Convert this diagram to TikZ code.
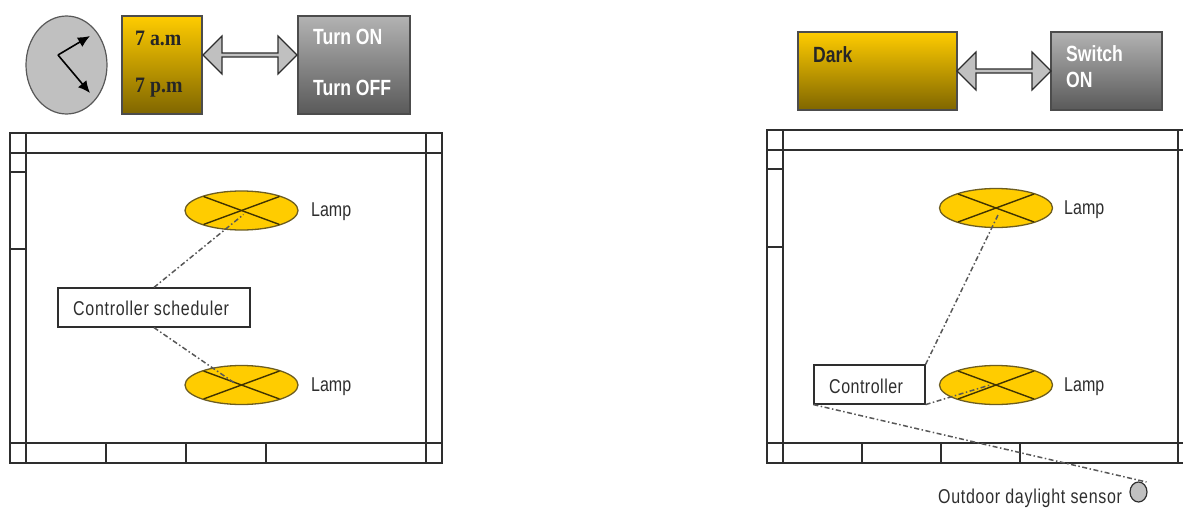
\documentclass[tikz,border=0pt]{standalone}
\usepackage{fontspec}
\setmainfont{Liberation Sans}
\newfontfamily\labelfont[FakeStretch=0.8]{Liberation Sans}
\newfontfamily\spacedfont[FakeStretch=0.8,LetterSpace=3.5]{Liberation Sans}
\newfontfamily\tightfont[FakeStretch=0.8,LetterSpace=2.5]{Liberation Sans}
\newfontfamily\boxfont[FakeStretch=0.8]{Liberation Sans}
\newfontfamily\timefont[FakeStretch=0.9]{Liberation Serif}
\usetikzlibrary{shapes.geometric,shapes.arrows,calc,arrows.meta}
\definecolor{lampfill}{HTML}{FFCC00}
\definecolor{ink}{HTML}{2E2E2E}
\definecolor{clockgray}{HTML}{C0C0C0}
\tikzset{
  x=1pt,y=-1pt,
  wall/.style={draw=ink,line width=1.2pt},
  lamp/.style={ellipse,draw=ink!70!lampfill,fill=lampfill,line width=1.3pt,minimum width=113pt,minimum height=39pt,inner sep=0pt},
  cross/.style={draw=black!75!lampfill,line width=1.4pt},
  lamptext/.style={anchor=west,inner sep=0pt,font=\labelfont\fontsize{20}{20}\selectfont,text=ink},
  ctrlbox/.style={draw=ink,fill=white,line width=1.2pt,inner sep=0pt,minimum height=39pt},
  ctrltext/.style={anchor=west,inner sep=0pt,font=\spacedfont\fontsize{20}{20}\selectfont,text=ink},
  wire/.style={draw=ink!80,line width=1.5pt,dash pattern=on 5pt off 2.5pt on 1.5pt off 2.5pt},
  yellowbox/.style={draw=black!70,line width=1.2pt,top color=lampfill,bottom color=lampfill!50!black,inner sep=0pt},
  graybox/.style={draw=black!70,line width=1.2pt,top color=black!30,bottom color=black!65,inner sep=0pt},
  darktext/.style={anchor=west,inner sep=0pt,text=black!85,font=\boxfont\bfseries\fontsize{22}{22}\selectfont},
  timetext/.style={anchor=west,inner sep=0pt,text=black!85,font=\timefont\bfseries\fontsize{22}{22}\selectfont},
  lighttext/.style={anchor=west,inner sep=0pt,text=white,font=\boxfont\bfseries\fontsize{22}{22}\selectfont},
  linkarrow/.style={double arrow,draw=ink,fill=clockgray,line width=1.2pt,minimum height=94pt,minimum width=38pt,double arrow head extend=5pt,inner sep=0pt},
  hand/.style={draw=black,line width=1.6pt,-{Latex[length=12pt,width=11pt]}},
  sensor/.style={ellipse,draw=ink,fill=clockgray,line width=1.2pt,minimum width=17pt,minimum height=20pt,inner sep=0pt}
}
\begin{document}
\begin{tikzpicture}
\useasboundingbox (0,0) rectangle (1183,508);
\clip (0,0) rectangle (1183,508);
% ---------- left: clock and schedule
\node[ellipse,draw=ink!80,fill=clockgray,line width=1.2pt,minimum width=81pt,minimum height=98pt,inner sep=0pt] (clock) at (66.5,65) {};
\coordinate (pivot) at (58,55);
\coordinate (hA) at (90,36);
\coordinate (hB) at (90,93);
\draw[hand] (pivot) -- (hA);
\draw[hand] (pivot) -- (hB);
\node[yellowbox,minimum width=80pt,minimum height=98pt] (timebox) at (162,65) {};
\node[graybox,minimum width=112pt,minimum height=98pt] (turnbox) at (354,65) {};
\node[timetext] (am) at (135,38) {7 a.m};
\node[timetext] (pm) at (135,88) {7 p.m};
\node[lighttext] (on) at (313,37) {Turn ON};
\node[lighttext] (off) at (313,88) {Turn OFF};
\node[linkarrow] (linkA) at (250,55) {};
% left room
\draw[wall] (10,133) rectangle (442,463);
\draw[wall] (10,153) -- (442,153);
\draw[wall] (10,443) -- (442,443);
\draw[wall] (26,133) -- (26,463);
\draw[wall] (426,133) -- (426,463);
\draw[wall] (10,172) -- (26,172);
\draw[wall] (10,249) -- (26,249);
\draw[wall] (106,443) -- (106,463);
\draw[wall] (186,443) -- (186,463);
\draw[wall] (266,443) -- (266,463);
% left lamps
\node[lamp] (lampA) at (241.5,210.5) {};
\node[lamp] (lampB) at (241.5,385) {};
\foreach \l in {lampA,lampB}{
  \draw[cross] ($(\l.center)+(-38,-14)$) -- ($(\l.center)+(38,14)$);
  \draw[cross] ($(\l.center)+(-38,14)$) -- ($(\l.center)+(38,-14)$);
}
\node[lamptext] (lampAt) at (311,212) {Lamp};
\node[lamptext] (lampBt) at (311,387) {Lamp};
\node[ctrlbox,minimum width=192pt] (sched) at (154,307.5) {};
\node[ctrltext] (schedt) at (73,308.5) {Controller scheduler};
\draw[wire] (sched.north) -- ([shift={(2,4)}]lampA.center);
\draw[wire] (sched.south) -- ([shift={(-7,-2)}]lampB.center);
% ---------- right: dark sensing
\node[yellowbox,minimum width=159pt,minimum height=78pt] (darkbox) at (877.5,71) {};
\node[graybox,minimum width=111pt,minimum height=78pt] (switchbox) at (1106.5,71) {};
\node[darktext] (dark) at (813,55) {Dark};
\node[lighttext] (sw1) at (1066,54) {Switch};
\node[lighttext] (sw2) at (1066,80) {ON};
\node[linkarrow] (linkB) at (1004,71) {};
% right room
\draw[wall] (767,130) rectangle (1199,463);
\draw[wall] (767,150) -- (1199,150);
\draw[wall] (767,443) -- (1199,443);
\draw[wall] (783,130) -- (783,463);
\draw[wall] (1178,130) -- (1178,463);
\draw[wall] (767,169) -- (783,169);
\draw[wall] (767,247) -- (783,247);
\draw[wall] (862,443) -- (862,463);
\draw[wall] (941,443) -- (941,463);
\draw[wall] (1020,443) -- (1020,463);
% right lamps
\node[lamp] (lampC) at (996,208) {};
\node[lamp] (lampD) at (996,385) {};
\foreach \l in {lampC,lampD}{
  \draw[cross] ($(\l.center)+(-38,-14)$) -- ($(\l.center)+(38,14)$);
  \draw[cross] ($(\l.center)+(-38,14)$) -- ($(\l.center)+(38,-14)$);
}
\node[lamptext] (lampCt) at (1064,210) {Lamp};
\node[lamptext] (lampDt) at (1064,387) {Lamp};
\node[ctrlbox,minimum width=111pt] (ctrl) at (869.5,384.5) {};
\node[ctrltext,font=\tightfont\fontsize{20}{20}\selectfont] (ctrlt) at (829,386) {Controller};
\node[sensor] (daylight) at (1138.5,492) {};
\node[ctrltext] (daylightt) at (938,498.5) {Outdoor daylight sensor};
\draw[wire] (ctrl.north east) -- ([shift={(2,7)}]lampC.center);
\draw[wire] (ctrl.south east) -- ([shift={(-6,0)}]lampD.center);
\draw[wire] (ctrl.south west) -- ([shift={(8,-10)}]daylight.center);
\end{tikzpicture}
\end{document}
